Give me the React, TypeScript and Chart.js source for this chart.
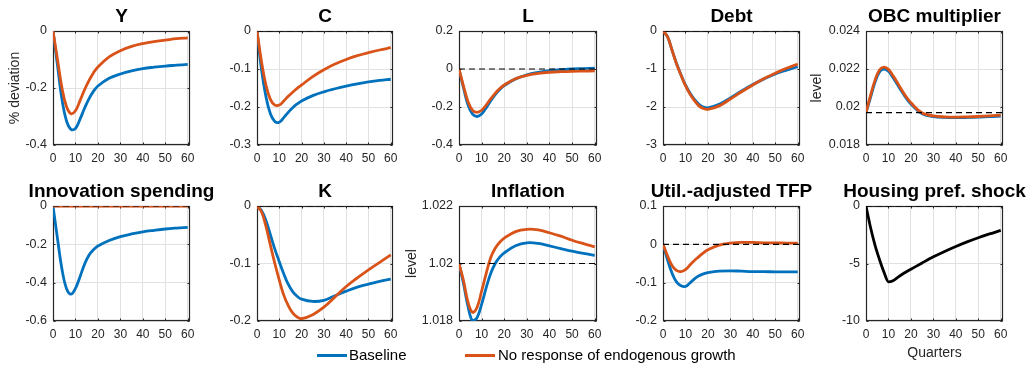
import React, { useEffect, useRef } from "react";
import { Chart, registerables } from "chart.js";

Chart.register(...registerables);

// ---------------- data ----------------
const QUARTERS = [0, 2, 4, 6, 8, 10, 12, 14, 16, 18, 20, 25, 30, 35, 40, 45, 50, 55, 60];
const X_TICKS = [0, 10, 20, 30, 40, 50, 60];
const X_MAX = 61;

const SERIES_LABELS = ["Baseline", "No response of endogenous growth"];

const Y_BASE = [0, -0.12, -0.24, -0.315, -0.345, -0.342, -0.31, -0.272, -0.238, -0.212, -0.193, -0.166, -0.151, -0.14, -0.132, -0.127, -0.123, -0.12, -0.117];
const Y_ALT = [0, -0.1, -0.2, -0.265, -0.29, -0.28, -0.245, -0.207, -0.174, -0.147, -0.126, -0.091, -0.069, -0.054, -0.044, -0.037, -0.032, -0.027, -0.024];

const C_BASE = [0, -0.1, -0.172, -0.218, -0.238, -0.24, -0.228, -0.214, -0.202, -0.192, -0.184, -0.17, -0.16, -0.152, -0.145, -0.139, -0.134, -0.13, -0.127];
const C_ALT = [0, -0.08, -0.142, -0.18, -0.195, -0.195, -0.184, -0.172, -0.161, -0.151, -0.142, -0.12, -0.102, -0.087, -0.075, -0.065, -0.057, -0.05, -0.044];

const L_BASE = [0, -0.1, -0.19, -0.238, -0.25, -0.237, -0.205, -0.168, -0.135, -0.108, -0.087, -0.052, -0.031, -0.018, -0.009, -0.004, 0.0, 0.002, 0.004];
const L_ALT = [0, -0.09, -0.172, -0.218, -0.228, -0.217, -0.19, -0.157, -0.128, -0.103, -0.084, -0.051, -0.033, -0.023, -0.017, -0.014, -0.012, -0.011, -0.01];

const DEBT_BASE = [0, -0.15, -0.5, -0.85, -1.15, -1.42, -1.63, -1.8, -1.93, -2.0, -2.02, -1.93, -1.76, -1.58, -1.41, -1.26, -1.13, -1.03, -0.94];
const DEBT_ALT = [0, -0.15, -0.5, -0.86, -1.16, -1.44, -1.66, -1.83, -1.97, -2.04, -2.06, -1.97, -1.79, -1.6, -1.42, -1.25, -1.11, -0.98, -0.87];

const OBC_BASE = [0.0197, 0.0205, 0.0213, 0.02185, 0.022, 0.02188, 0.02155, 0.02118, 0.0208, 0.02045, 0.02016, 0.01964, 0.0195, 0.01945, 0.01944, 0.01945, 0.01947, 0.0195, 0.01952];
const OBC_ALT = [0.0197, 0.0206, 0.0214, 0.02195, 0.0221, 0.02198, 0.02165, 0.02128, 0.02088, 0.02052, 0.02022, 0.01968, 0.01953, 0.01948, 0.01947, 0.01948, 0.0195, 0.01953, 0.01957];

const INNOV_BASE = [0, -0.17, -0.33, -0.43, -0.46, -0.43, -0.37, -0.305, -0.257, -0.228, -0.209, -0.18, -0.16, -0.146, -0.135, -0.127, -0.12, -0.115, -0.111];
const INNOV_ALT = [0, 0, 0, 0, 0, 0, 0, 0, 0, 0, 0, 0, 0, 0, 0, 0, 0, 0, 0];

const K_BASE = [0, -0.008, -0.025, -0.05, -0.075, -0.097, -0.118, -0.136, -0.149, -0.157, -0.162, -0.166, -0.164, -0.156, -0.148, -0.141, -0.136, -0.131, -0.127];
const K_ALT = [0, -0.01, -0.035, -0.068, -0.1, -0.129, -0.155, -0.173, -0.186, -0.193, -0.196, -0.189, -0.176, -0.158, -0.14, -0.125, -0.111, -0.098, -0.085];

const INFL_BASE = [1.02, 1.0193, 1.0185, 1.018, 1.01812, 1.01858, 1.01915, 1.01965, 1.02, 1.02022, 1.02037, 1.02062, 1.02072, 1.0207, 1.02061, 1.02052, 1.02043, 1.02035, 1.02028];
const INFL_ALT = [1.02, 1.0194, 1.01865, 1.0183, 1.01848, 1.01904, 1.01965, 1.0202, 1.02053, 1.02074, 1.02088, 1.02111, 1.02119, 1.02117, 1.02107, 1.02095, 1.02081, 1.02069, 1.02058];

const TFP_BASE = [0, -0.04, -0.075, -0.098, -0.108, -0.11, -0.101, -0.09, -0.082, -0.077, -0.074, -0.07, -0.069, -0.07, -0.071, -0.071, -0.072, -0.072, -0.072];
const TFP_ALT = [0, -0.03, -0.055, -0.068, -0.071, -0.066, -0.054, -0.042, -0.032, -0.022, -0.014, -0.002, 0.003, 0.005, 0.005, 0.004, 0.004, 0.003, 0.003];

const HOUSING_SHOCK = [0, -1.85, -3.4, -4.65, -5.75, -6.6, -6.5, -6.22, -5.96, -5.72, -5.5, -4.95, -4.42, -3.95, -3.52, -3.12, -2.76, -2.43, -2.12];

type PanelSpec = {
  title: string;
  base: number[] | null;
  alt: number[] | null;
  shock: number[] | null;
  ref: number | null;
  yMin: number;
  yMax: number;
  yTicks: number[];
  yTitle?: string;
  yTitleX?: number;
  xTitle?: string;
};

const PANELS: PanelSpec[] = [
  { title: "Y", base: Y_BASE, alt: Y_ALT, shock: null, ref: null, yMin: -0.4, yMax: 0, yTicks: [-0.4, -0.2, 0], yTitle: "% deviation", yTitleX: 15 },
  { title: "C", base: C_BASE, alt: C_ALT, shock: null, ref: 0, yMin: -0.3, yMax: 0, yTicks: [-0.3, -0.2, -0.1, 0] },
  { title: "L", base: L_BASE, alt: L_ALT, shock: null, ref: 0, yMin: -0.4, yMax: 0.2, yTicks: [-0.4, -0.2, 0, 0.2] },
  { title: "Debt", base: DEBT_BASE, alt: DEBT_ALT, shock: null, ref: 0, yMin: -3, yMax: 0, yTicks: [-3, -2, -1, 0] },
  { title: "OBC multiplier", base: OBC_BASE, alt: OBC_ALT, shock: null, ref: 0.0197, yMin: 0.018, yMax: 0.024, yTicks: [0.018, 0.02, 0.022, 0.024], yTitle: "level", yTitleX: 817 },
  { title: "Innovation spending", base: INNOV_BASE, alt: INNOV_ALT, shock: null, ref: 0, yMin: -0.6, yMax: 0, yTicks: [-0.6, -0.4, -0.2, 0] },
  { title: "K", base: K_BASE, alt: K_ALT, shock: null, ref: 0, yMin: -0.2, yMax: 0, yTicks: [-0.2, -0.1, 0] },
  { title: "Inflation", base: INFL_BASE, alt: INFL_ALT, shock: null, ref: 1.02, yMin: 1.018, yMax: 1.022, yTicks: [1.018, 1.02, 1.022], yTitle: "level", yTitleX: 412 },
  { title: "Util.-adjusted TFP", base: TFP_BASE, alt: TFP_ALT, shock: null, ref: 0, yMin: -0.2, yMax: 0.1, yTicks: [-0.2, -0.1, 0, 0.1] },
  { title: "Housing pref. shock", base: null, alt: null, shock: HOUSING_SHOCK, ref: 0, yMin: -10, yMax: 0, yTicks: [-10, -5, 0], xTitle: "Quarters" },
];

// ---------------- styling / layout ----------------
const FONT = "'Liberation Sans', Arial, Helvetica, sans-serif";
const BLUE = "#0072BD";
const ORANGE = "#D95319";
const AXIS = "#262626";
const GRID = "#e1e1e1";
const LW = 2.8;

const COL_LEFT = [53, 257, 459, 663, 866];
const COL_RIGHT = [190, 393, 597, 800, 1003];
const ROW_TOP = [31, 206];
const ROW_BOTTOM = [145, 321];

const M = 66; // side margins of each canvas
const TOP = 34;
const BOT = 44;
const TICK = 2;

const boxPlugin = {
  id: "axesBox",
  beforeDatasetsDraw(chart: any) {
    const { ctx, chartArea: a, scales } = chart;
    const l = Math.round(a.left) + 0.5;
    const r = Math.round(a.right) - 0.5;
    const t = Math.round(a.top) + 0.5;
    const b = Math.round(a.bottom) - 0.5;
    ctx.save();
    ctx.strokeStyle = AXIS;
    ctx.lineWidth = 1;
    ctx.beginPath();
    for (const tk of scales.x.ticks) {
      const px = Math.round(scales.x.getPixelForValue(tk.value)) + 0.5;
      ctx.moveTo(px, b);
      ctx.lineTo(px, b - TICK);
      ctx.moveTo(px, t);
      ctx.lineTo(px, t + TICK);
    }
    for (const tk of scales.y.ticks) {
      const py = Math.round(scales.y.getPixelForValue(tk.value)) + 0.5;
      ctx.moveTo(l, py);
      ctx.lineTo(l + TICK, py);
      ctx.moveTo(r, py);
      ctx.lineTo(r - TICK, py);
    }
    ctx.stroke();
    ctx.lineWidth = 1.2;
    ctx.strokeRect(l, t, r - l, b - t);
    ctx.restore();
  },
};

function PanelChart({ spec, col, row }: { spec: PanelSpec; col: number; row: number }) {
  const ref = useRef<HTMLCanvasElement>(null);
  const plotL = COL_LEFT[col];
  const plotR = COL_RIGHT[col];
  const plotT = ROW_TOP[row];
  const plotB = ROW_BOTTOM[row];
  const left = plotL - M;
  const top = plotT - TOP;
  const width = M + (plotR - plotL) + M;
  const height = TOP + (plotB - plotT) + BOT;

  useEffect(() => {
    const mk = (vals: number[]) => QUARTERS.map((q, k) => ({ x: q, y: vals[k] }));
    const datasets: any[] = [];
    if (spec.ref !== null) {
      datasets.push({
        label: "steady state",
        data: [
          { x: 0, y: spec.ref },
          { x: X_MAX, y: spec.ref },
        ],
        borderColor: "#000",
        borderWidth: 1.2,
        borderDash: [6, 4],
        pointRadius: 0,
        order: 0,
      });
    }
    if (spec.alt) {
      datasets.push({ label: SERIES_LABELS[1], data: mk(spec.alt), borderColor: ORANGE, borderWidth: LW, pointRadius: 0, tension: 0.4, order: 1 });
    }
    if (spec.base) {
      datasets.push({ label: SERIES_LABELS[0], data: mk(spec.base), borderColor: BLUE, borderWidth: LW, pointRadius: 0, tension: 0.4, order: 2 });
    }
    if (spec.shock) {
      datasets.push({ label: spec.title, data: mk(spec.shock), borderColor: "#000", borderWidth: LW, pointRadius: 0, cubicInterpolationMode: "monotone", order: 1 });
    }

    const axisTitleSize = 14;
    const yTitlePad = spec.yTitleX !== undefined ? spec.yTitleX - left - (axisTitleSize * 1.2) / 2 : 0;

    const chart = new Chart(ref.current as HTMLCanvasElement, {
      type: "line",
      data: { datasets },
      options: {
        animation: false,
        responsive: false,
        events: [],
        layout: { padding: { top: 8, left: 0, right: 0, bottom: 0 } },
        plugins: {
          legend: { display: false },
          tooltip: { enabled: false },
          title: {
            display: true,
            text: spec.title,
            color: "#000",
            font: { family: FONT, size: 19, weight: "bold" },
            padding: { top: 0, bottom: 3.2 },
          },
        },
        scales: {
          x: {
            type: "linear",
            min: 0,
            max: X_MAX,
            afterBuildTicks: (s: any) => {
              s.ticks = X_TICKS.map((v) => ({ value: v }));
            },
            afterFit: (s: any) => {
              s.height = BOT;
            },
            grid: { color: GRID, lineWidth: 1, drawTicks: false },
            border: { display: false },
            ticks: {
              color: AXIS,
              font: { family: FONT, size: 12 },
              padding: 6.5,
              maxRotation: 0,
              autoSkip: false,
              callback: (v: any) => String(v),
            },
            title: spec.xTitle
              ? { display: true, text: spec.xTitle, color: AXIS, font: { family: FONT, size: axisTitleSize }, padding: { top: 0, bottom: 3.6 } }
              : { display: false },
          },
          y: {
            type: "linear",
            position: "left",
            min: spec.yMin,
            max: spec.yMax,
            afterBuildTicks: (s: any) => {
              s.ticks = spec.yTicks.map((v) => ({ value: v }));
            },
            afterFit: (s: any) => {
              s.width = M;
            },
            grid: { color: GRID, lineWidth: 1, drawTicks: false },
            border: { display: false },
            ticks: {
              color: AXIS,
              font: { family: FONT, size: 12.5 },
              padding: 6,
              callback: (v: any) => String(v),
            },
            title: spec.yTitle
              ? { display: true, text: spec.yTitle, color: AXIS, font: { family: FONT, size: axisTitleSize }, padding: { top: yTitlePad, bottom: 0 } }
              : { display: false },
          },
          y2: {
            type: "linear",
            position: "right",
            min: 0,
            max: 1,
            afterFit: (s: any) => {
              s.width = M;
            },
            grid: { display: false, drawTicks: false },
            border: { display: false },
            ticks: { display: false },
          },
        },
      } as any,
      plugins: [boxPlugin],
    });
    return () => chart.destroy();
  }, []);

  return (
    <canvas
      ref={ref}
      width={width}
      height={height}
      style={{ position: "absolute", left, top, width, height }}
    />
  );
}

export default function App() {
  return (
    <div
      style={{
        position: "absolute",
        left: 0,
        top: 0,
        width: 1029,
        height: 365,
        overflow: "hidden",
        background: "#fff",
      }}
    >
      {PANELS.map((p, i) => (
        <PanelChart key={i} spec={p} col={i % 5} row={Math.floor(i / 5)} />
      ))}
      <div style={{ position: "absolute", left: 317, top: 354, width: 30, height: 3, background: BLUE }} />
      <div style={{ position: "absolute", left: 349, top: 346, lineHeight: "20px", font: `15px ${FONT}`, color: "#000", whiteSpace: "nowrap" }}>
        {SERIES_LABELS[0]}
      </div>
      <div style={{ position: "absolute", left: 465, top: 354, width: 30, height: 3, background: ORANGE }} />
      <div style={{ position: "absolute", left: 498, top: 346, lineHeight: "20px", font: `15px ${FONT}`, color: "#000", whiteSpace: "nowrap" }}>
        {SERIES_LABELS[1]}
      </div>
    </div>
  );
}
